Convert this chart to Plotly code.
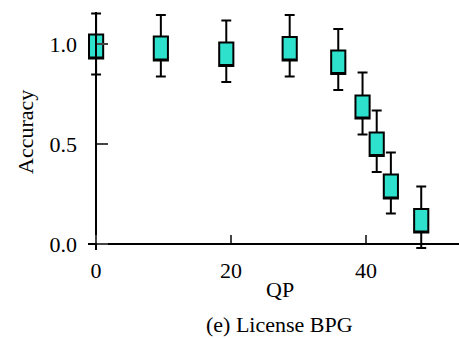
import plotly.graph_objects as go

qp = [0, 9.6, 19.3, 28.7, 35.9, 39.5, 41.6, 43.7, 48.2]
box_top = [1.047, 1.037, 1.007, 1.035, 0.967, 0.743, 0.557, 0.347, 0.175]
box_bottom = [0.927, 0.917, 0.890, 0.918, 0.850, 0.628, 0.440, 0.228, 0.058]
whisk_top = [1.153, 1.145, 1.117, 1.145, 1.075, 0.857, 0.667, 0.457, 0.287]
whisk_bottom = [0.847, 0.837, 0.810, 0.837, 0.770, 0.547, 0.360, 0.152, -0.020]

x_ticks = [0, 20, 40]
y_ticks = [0.0, 0.5, 1.0]
y_tick_text = ["0.0", "0.5", "1.0"]

x_range = [-1.2, 53.8]
y_range = [-0.03, 1.16]

FONT = "Liberation Serif"
FS = 22

fig = go.Figure()
fig.add_trace(go.Box(
    x=qp,
    q1=box_bottom,
    median=box_bottom,
    q3=box_top,
    lowerfence=whisk_bottom,
    upperfence=whisk_top,
    width=2.1,
    whiskerwidth=0.7,
    fillcolor="#2de1cc",
    line=dict(color="black", width=2),
    showlegend=False,
    hoverinfo="skip",
))

xpos = (0 - y_range[0]) / (y_range[1] - y_range[0])
ypos = (0 - x_range[0]) / (x_range[1] - x_range[0])

fig.update_layout(
    width=459, height=338,
    margin=dict(l=88, r=0, t=12, b=88),
    plot_bgcolor="white", paper_bgcolor="white",
    font=dict(family=FONT, size=FS, color="black"),
    xaxis=dict(
        range=x_range, tickvals=x_ticks, ticks="inside", ticklen=8, tickwidth=1.5,
        showline=True, linecolor="black", linewidth=1.5, showgrid=False, zeroline=False,
        anchor="free", position=xpos, ticklabelstandoff=7,
        tickfont=dict(family=FONT, size=FS),
    ),
    yaxis=dict(
        range=y_range, tickvals=y_ticks, ticktext=y_tick_text, ticks="inside", ticklen=11,
        tickwidth=1.5, showline=True, linecolor="black", linewidth=1.5, showgrid=False,
        zeroline=False, anchor="free", position=ypos, ticklabelstandoff=14,
        tickfont=dict(family=FONT, size=FS),
    ),
    annotations=[
        dict(text="Accuracy", xref="paper", yref="paper", x=-0.167, y=0.496,
             textangle=-90, showarrow=False, font=dict(family=FONT, size=FS),
             xanchor="center", yanchor="middle"),
        dict(text="QP", xref="paper", yref="paper", x=0.5175, y=-0.168,
             showarrow=False, font=dict(family=FONT, size=FS),
             xanchor="center", yanchor="middle"),
        dict(text="(e) License BPG", xref="paper", yref="paper", x=0.5175, y=-0.311,
             showarrow=False, font=dict(family=FONT, size=FS),
             xanchor="center", yanchor="middle"),
    ],
)

fig.write_html("out.html")
